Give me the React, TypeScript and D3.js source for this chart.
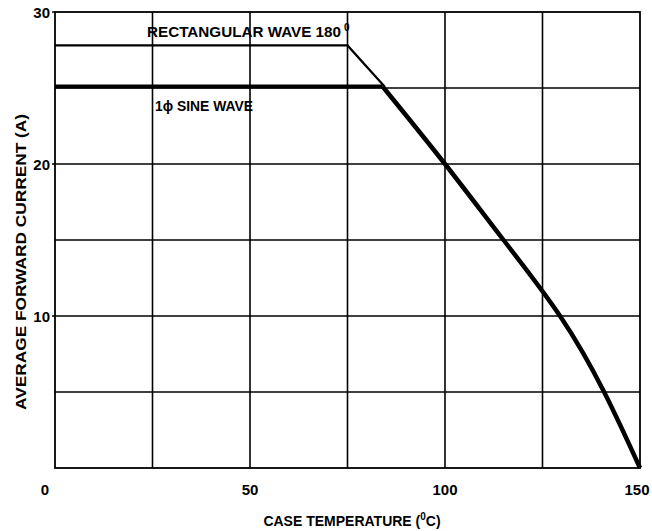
import React from "react";
import * as d3 from "d3";

const xTicks = [0, 50, 100, 150];
const yTicks = [10, 20, 30];
const xGrid = [25, 50, 75, 100, 125];
const yGrid = [5, 10, 15, 20, 25];

const rectTemp = [0, 75, 84.5];
const rectCurrent = [27.8, 27.8, 25.1];
const sineTemp = [0, 84, 100, 115, 129.5, 140.8, 150];
const sineCurrent = [25.1, 25.1, 20, 15, 10, 5, 0];

const W = 652, H = 531;
const m = { left: 55, right: 12, top: 12, bottom: 63 };
const FONT = "'Liberation Sans', Arial, sans-serif";

export default function App() {
  const x = d3.scaleLinear().domain([0, 150]).range([m.left, W - m.right]);
  const y = d3.scaleLinear().domain([0, 30]).range([H - m.bottom, m.top]);
  const rectPts = rectTemp.map((t, i) => [x(t), y(rectCurrent[i])] as [number, number]);
  const sinePts = sineTemp.map((t, i) => [x(t), y(sineCurrent[i])] as [number, number]);
  const curve = d3.line<[number, number]>().x(d => d[0]).y(d => d[1]).curve(d3.curveNatural);
  const linear = d3.line<[number, number]>().x(d => d[0]).y(d => d[1]);

  return (
    <svg width={W} height={H} style={{ position: "absolute", left: 0, top: 0, background: "#fff" }}>
      <rect x={0} y={0} width={W} height={H} fill="#fff" />
      {xGrid.map(v => (
        <line key={"xg" + v} x1={x(v)} x2={x(v)} y1={y(0)} y2={y(30)} stroke="#000" strokeWidth={1.6} />
      ))}
      {yGrid.map(v => (
        <line key={"yg" + v} x1={x(0)} x2={x(150)} y1={y(v)} y2={y(v)} stroke="#000" strokeWidth={1.6} />
      ))}
      <rect x={x(0)} y={y(30)} width={x(150) - x(0)} height={y(0) - y(30)} fill="none" stroke="#000" strokeWidth={1.8} />
      {yTicks.map(v => (
        <g key={"yt" + v}>
          <line x1={x(0) - 3} x2={x(0)} y1={y(v)} y2={y(v)} stroke="#000" strokeWidth={1.5} />
          <text x={x(0) - 5} y={y(v) + 6} textAnchor="end" fontFamily={FONT} fontWeight="bold" fontSize={15}>{v}</text>
        </g>
      ))}
      {xTicks.map(v => (
        <text key={"xt" + v} x={v === 0 ? x(0) - 10 : v === 150 ? x(150) - 3 : x(v)} y={y(0) + 27} textAnchor="middle" fontFamily={FONT} fontWeight="bold" fontSize={15}>{v}</text>
      ))}
      <path d={linear(rectPts) || ""} fill="none" stroke="#000" strokeWidth={2.2} />
      <path d={linear(sinePts.slice(0, 2)) || ""} fill="none" stroke="#000" strokeWidth={4} />
      <path d={curve(sinePts.slice(1)) || ""} fill="none" stroke="#000" strokeWidth={4.5} strokeLinejoin="round" />
      <text x={147} y={37} fontFamily={FONT} fontWeight="bold" fontSize={14} textLength={194} lengthAdjust="spacingAndGlyphs">
        RECTANGULAR WAVE  180
      </text>
      <text x={344} y={31} fontFamily={FONT} fontWeight="bold" fontSize={10}>0</text>
      <text x={155} y={111} fontFamily={FONT} fontWeight="bold" fontSize={14} textLength={98} lengthAdjust="spacingAndGlyphs">1ϕ SINE WAVE</text>
      <text x={352} y={526} textAnchor="middle" fontFamily={FONT} fontWeight="bold" fontSize={14}>
        CASE TEMPERATURE (<tspan dy={-6} fontSize={10}>0</tspan><tspan dy={6}>C)</tspan>
      </text>
      <text transform={`translate(26, ${(y(0) + y(30)) / 2 + 22}) rotate(-90)`} textAnchor="middle" fontFamily={FONT} fontWeight="bold" fontSize={14} textLength={296} lengthAdjust="spacingAndGlyphs">
        AVERAGE FORWARD CURRENT (A)
      </text>
    </svg>
  );
}
